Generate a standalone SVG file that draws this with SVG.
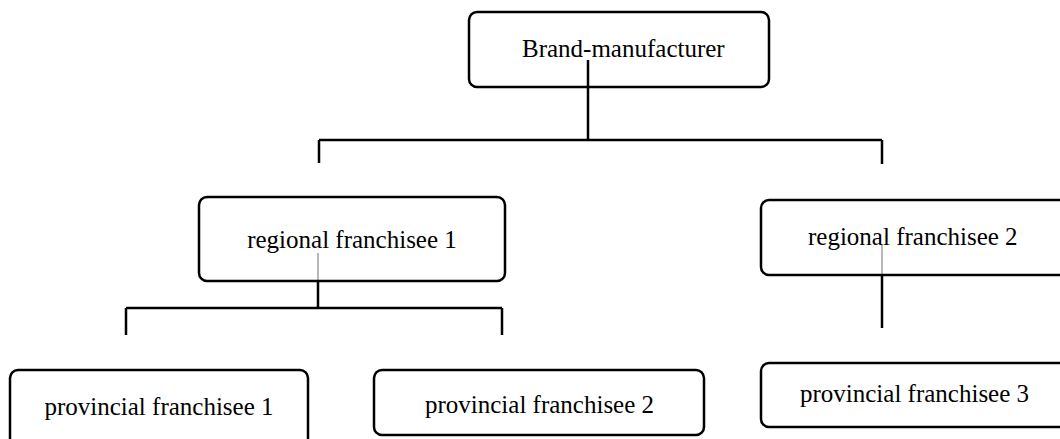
<svg xmlns="http://www.w3.org/2000/svg" width="1060" height="439" viewBox="0 0 1060 439">
<style>
.box{fill:none;stroke:#000;stroke-width:2.5}
.lbl{font-family:"Liberation Serif","Times New Roman",serif;font-size:25px;fill:#000}
.ln{fill:none;stroke:#000;stroke-width:2.5}
.lg{fill:none;stroke:#888;stroke-width:1.2}
</style>
<rect width="1060" height="439" fill="#fff"/>
<g id="connectors">
<path class="ln" d="M588 60V140M319 140H882M319 140V163M882 140V164"/>
<path class="lg" d="M318 253V281"/>
<path class="ln" d="M318 281V308M126 308H502M126 308V335M502 308V335"/>
<path class="lg" d="M882 245V275"/>
<path class="ln" d="M882 275V328"/>
</g>
<g id="brand"><rect class="box" x="469" y="12" width="300" height="75" rx="8"/><text class="lbl" x="522" y="57">Brand-manufacturer</text></g>
<g id="regional1"><rect class="box" x="199" y="197" width="306" height="84" rx="8"/><text class="lbl" x="352" y="248" text-anchor="middle">regional franchisee 1</text></g>
<g id="regional2"><rect class="box" x="761" y="200" width="320" height="75" rx="8"/><text class="lbl" x="808" y="245">regional franchisee 2</text></g>
<g id="provincial1"><rect class="box" x="10" y="370" width="298" height="80" rx="8"/><text class="lbl" x="159" y="415" text-anchor="middle">provincial franchisee 1</text></g>
<g id="provincial2"><rect class="box" x="374" y="370" width="330" height="65" rx="8"/><text class="lbl" x="425" y="413">provincial franchisee 2</text></g>
<g id="provincial3"><rect class="box" x="761" y="363" width="320" height="64" rx="8"/><text class="lbl" x="800" y="402">provincial franchisee 3</text></g>
</svg>
